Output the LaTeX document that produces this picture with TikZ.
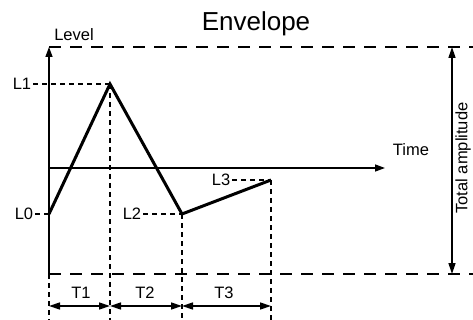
\documentclass[tikz,border=0pt]{standalone}
\usepackage{fontspec}
\setmainfont{Liberation Sans}
\usetikzlibrary{arrows.meta,calc}
\tikzset{
 lbl/.style={inner sep=2pt,font=\fontsize{16.5}{18}\selectfont},
 axisline/.style={line width=1.4pt,-{Triangle[length=10pt,width=7pt]}},
 longdash/.style={line width=1.3pt,dash pattern=on 12pt off 9pt},
 shortdash/.style={line width=1.3pt,dash pattern=on 5pt off 4pt},
 dimarrow/.style={line width=1.4pt,{Triangle[length=11pt,width=7pt]}-{Triangle[length=11pt,width=7pt]}},
 envline/.style={line width=3pt,line join=miter}
}

\begin{document}
\begin{tikzpicture}[x=1pt,y=-1pt]
\useasboundingbox (0,0) rectangle (473,320);
% envelope points and frame
\coordinate (p0) at (49,214);
\coordinate (p1) at (110,84);
\coordinate (p2) at (182,214);
\coordinate (p3) at (271,180);
\coordinate (orig) at (49,274);
\coordinate (ytop) at (49,47);
\coordinate (tax0) at (49,168);
\coordinate (tax1) at (385,168);
\coordinate (topend) at (473,47);
\coordinate (botend) at (473,274);
\coordinate (amptop) at (452,47);
\coordinate (ampbot) at (452,274);
\coordinate (dim) at (0,306);
\coordinate (base) at (0,320);
% texts
\node[anchor=base,font=\fontsize{26}{30}\selectfont] (title) at (256,31) {Envelope};
\node[lbl] (lev) at (74,35) {Level};
\node[lbl] (time) at (411,150) {Time};
\node[lbl,rotate=90] (amp) at (463,158) {Total amplitude};
\node[lbl] (lab0) at (24,214) {L0};
\node[lbl] (lab1) at (22,84) {L1};
\node[lbl] (lab2) at (132,214) {L2};
\node[lbl] (lab3) at (221,180) {L3};
\node[lbl] (t1) at (81,293) {T1};
\node[lbl] (t2) at (145,293) {T2};
\node[lbl] (t3) at (224,293) {T3};
% frame lines
\draw[longdash] (ytop) -- (topend);
\draw[longdash] (orig) -- (botend);
\draw[axisline] (orig) -- (ytop);
\draw[axisline] (tax0) -- (tax1);
\draw[dimarrow] (amptop) -- (ampbot);
% level guides
\draw[shortdash] (lab0) -- (p0);
\draw[shortdash] (lab1) -- (p1);
\draw[shortdash] (lab2) -- (p2);
\draw[shortdash] (lab3) -- (p3);
\draw[shortdash] (orig) -- (orig |- base);
\draw[shortdash] (p1) -- (p1 |- base);
\draw[shortdash] (p2) -- (p2 |- base);
\draw[shortdash] (p3) -- (p3 |- base);
% time spans
\draw[dimarrow] (p0 |- dim) -- (p1 |- dim);
\draw[dimarrow] (p1 |- dim) -- (p2 |- dim);
\draw[dimarrow] (p2 |- dim) -- (p3 |- dim);
% envelope
\draw[envline] (p0) -- (p1) -- (p2) -- (p3);
\end{tikzpicture}
\end{document}
